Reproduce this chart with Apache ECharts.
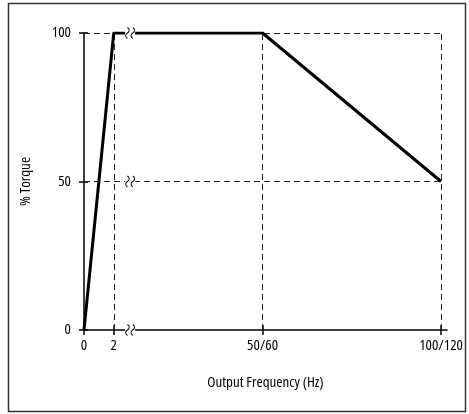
<!DOCTYPE html>
<html><head><meta charset="utf-8">
<script src="https://cdn.jsdelivr.net/npm/echarts@6/dist/echarts.min.js"></script>
<style>html,body{margin:0;padding:0;background:#fff}#c{width:469px;height:414px}</style>
</head><body><div id="c"></div>
<script>
// x positions on a broken (compressed) frequency axis, with their printed labels
const xTickPos = [0, 10, 60, 120];
const xTickLabels = ['0', '2', '50/60', '100/120'];
const yTicks = [0, 50, 100];
// torque curve (x position, % torque)
const torqueX = [0, 10, 60, 120];
const torqueY = [0, 100, 100, 50];
// axis-break marker position
const breakX = 15.5;
const breakY = [0, 50, 100];

const FONT = '"Open Sans", Roboto, sans-serif';
const TXT = {color: '#000', fontFamily: FONT, fontSize: 15, fontStyle: 'normal', fontWeight: 'condensed'};
const chart = echarts.init(document.getElementById('c'), null, {renderer: 'canvas'});

const labelMap = {};
xTickPos.forEach((p, i) => labelMap[p] = xTickLabels[i]);

const gridLines = [];
[50, 100].forEach(y => gridLines.push([{coord: [0, y]}, {coord: [xTickPos[xTickPos.length - 1], y]}]));
xTickPos.slice(1).forEach(x => gridLines.push([{coord: [x, 0]}, {coord: [x, 100]}]));

const SQUIGGLE = 'path://M2,0 C4.5,2 4,4.5 2,6 C0,7.5 -0.5,10 2,12 M7,0 C9.5,2 9,4.5 7,6 C5,7.5 4.5,10 7,12';

const axisLineStyle = {color: '#000', width: 1.5};
chart.setOption({
  animation: false,
  graphic: [{
    type: 'rect', shape: {x: 8.5, y: 3.5, width: 457, height: 408},
    style: {fill: 'none', stroke: '#333', lineWidth: 1.5}, z: 100
  }],
  grid: {left: 84, right: 22, top: 33, bottom: 84},
  xAxis: [{
    type: 'value', min: 0, max: 122,
    axisLine: {show: true, onZero: false, lineStyle: axisLineStyle},
    axisTick: {show: true, length: 5, customValues: xTickPos, lineStyle: axisLineStyle},
    axisLabel: Object.assign({customValues: xTickPos, formatter: v => labelMap[v] ?? '', margin: 8}, TXT),
    splitLine: {show: false},
    name: 'Output Frequency (Hz)', nameLocation: 'middle', nameGap: 45,
    nameTextStyle: TXT
  }, {
    type: 'value', min: 0, max: 122, position: 'bottom',
    axisLine: {show: false},
    axisTick: {show: true, inside: true, length: 5, customValues: xTickPos.slice(1), lineStyle: axisLineStyle},
    axisLabel: {show: false}, splitLine: {show: false}
  }],
  yAxis: [{
    type: 'value', min: 0, max: 100, interval: 50,
    axisLine: {show: true, onZero: false, lineStyle: axisLineStyle},
    axisTick: {show: true, length: 5, lineStyle: axisLineStyle},
    axisLabel: Object.assign({margin: 13}, TXT),
    splitLine: {show: false},
    name: '% Torque', nameLocation: 'middle', nameGap: 51, nameRotate: 90,
    nameMoveOverlap: false,
    nameTextStyle: TXT
  }, {
    type: 'value', min: 0, max: 100, interval: 50, position: 'left',
    axisLine: {show: false},
    axisTick: {show: true, inside: true, length: 4, lineStyle: axisLineStyle},
    axisLabel: {show: false}, splitLine: {show: false}
  }],
  series: [{
    type: 'line',
    data: [],
    markLine: {
      silent: true, symbol: 'none', label: {show: false},
      lineStyle: {type: [6, 4], color: '#222', width: 1},
      data: gridLines
    },
    z: 1
  }, {
    type: 'line',
    data: torqueX.map((x, i) => [x, torqueY[i]]),
    showSymbol: false, symbol: 'none',
    lineStyle: {color: '#000', width: 3},
    z: 5
  }, {
    type: 'scatter',
    data: breakY.map(y => [breakX, y]),
    symbol: 'rect', symbolSize: [10, 6],
    itemStyle: {color: '#fff', opacity: 1},
    silent: true, z: 10
  }, {
    type: 'scatter',
    data: breakY.map(y => [breakX, y]),
    symbol: SQUIGGLE, symbolSize: [9, 11],
    itemStyle: {color: 'none', borderColor: '#000', borderWidth: 1, opacity: 1},
    silent: true, z: 11
  }]
});
</script></body></html>
